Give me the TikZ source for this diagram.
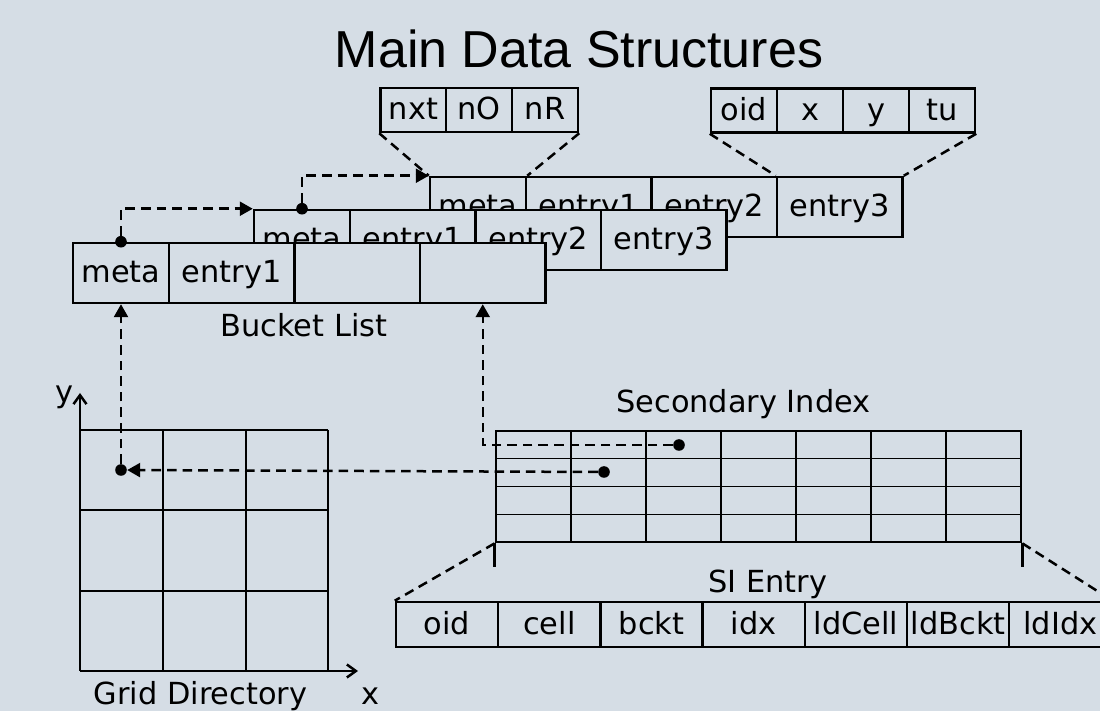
\documentclass[tikz,border=0pt]{standalone}
\usepackage{fontspec}
\newfontfamily\djv{DejaVu Sans}
\newfontfamily\arl{Liberation Sans}
\usetikzlibrary{arrows.meta}
\definecolor{bg}{RGB}{213,221,229}
\begin{document}
\begin{tikzpicture}[x=0.5pt,y=-0.5pt,
  lbl/.style={font=\djv\fontsize{15.2}{18}\selectfont, inner sep=0pt, anchor=base},
  cellbox/.style={draw, fill=bg, line width=1.25pt, inner sep=0pt, minimum height=30pt,
    text height=12pt, text depth=2pt, font=\djv\fontsize{15.2}{18}\selectfont},
  metabox/.style={cellbox, minimum width=48pt},
  entbox/.style={cellbox, minimum width=62.75pt},
  fldbox/.style={cellbox, minimum width=33pt, minimum height=22pt},
  sibox/.style={cellbox, minimum width=51.1pt, minimum height=22.5pt},
  ptdot/.style={circle, fill=black, inner sep=0pt, minimum size=5.8pt},
  dsh/.style={line width=1.25pt, dash pattern=on 4.8pt off 3pt},
  ptr/.style={dsh, -{Triangle[length=6.5pt,width=7pt]}},
  axis/.style={line width=1.25pt, -{Straight Barb[length=4.5pt,width=6.5pt]}},
]
\fill[bg] (0,0) rectangle (1100,711);
\useasboundingbox (0,0) rectangle (1100,711);

% title
\node[font=\arl\fontsize{26}{30}\selectfont, anchor=base, inner sep=0pt] (title) at (579,68) {Main Data Structures};

% back row
\node[metabox] (b0) at (478,207) {meta};
\node[entbox] (b1) at (588.75,207) {entry1};
\node[entbox] (b2) at (714.25,207) {entry2};
\node[entbox] (b3) at (839.75,207) {entry3};
% middle row
\node[metabox] (m0) at (302,240) {meta};
\node[entbox] (m1) at (412.75,240) {entry1};
\node[entbox] (m2) at (538.25,240) {entry2};
\node[entbox] (m3) at (663.75,240) {entry3};
% front row
\node[metabox] (f0) at (121,273) {meta};
\node[entbox] (f1) at (231.75,273) {entry1};
\node[entbox] (f2) at (357.25,273) {};
\node[entbox] (f3) at (482.75,273) {};

\node[lbl] (bl) at (304,337) {Bucket List};

% meta fields callout
\node[fldbox] (c0) at (413.5,110) {nxt};
\node[fldbox] (c1) at (479,110) {nO};
\node[fldbox] (c2) at (545,110) {nR};
\draw[dsh] (c0.south west) -- (b0.north west);
\draw[dsh] (c2.south east) -- (b0.north east);

% entry fields callout
\node[fldbox] (o0) at (744,110.5) {oid};
\node[fldbox] (o1) at (810,110.5) {x};
\node[fldbox] (o2) at (876,110.5) {y};
\node[fldbox] (o3) at (942,110.5) {tu};
\draw[dsh] (o0.south west) -- (b3.north west);
\draw[dsh] (o3.south east) -- (b3.north east);

% next pointers
\node[ptdot] (fd) at (f0.north) {};
\node[ptdot] (md) at (m0.north) {};
\draw[ptr] (fd) |- (m0.north west);
\draw[ptr] (md) |- (b0.north west);

% grid directory
\foreach \gx in {80,163,246,328} \draw[line width=1.4pt] (\gx,430) -- (\gx,671);
\foreach \gy in {430,510,591,671} \draw[line width=1.4pt] (80,\gy) -- (328,\gy);
\coordinate (origin) at (80,671);
\coordinate (yend) at (80,393);
\coordinate (xend) at (358,671);
\draw[axis] (origin) -- (yend);
\draw[axis] (origin) -- (xend);
\node[lbl] (ylab) at (64,403) {y};
\node[lbl] (xlab) at (370,705) {x};
\node[lbl] (gdl) at (200.5,705) {Grid Directory};

% secondary index
\node[lbl] (sil) at (743.5,413) {Secondary Index};
\foreach \k in {1,...,6} \draw[line width=0.7pt] (496+75*\k,431) -- (496+75*\k,542);
\foreach \gy in {458.75,486.5,514.25} \draw[line width=0.7pt] (496,\gy) -- (1021,\gy);
\node[draw, line width=1.4pt, minimum width=262.5pt, minimum height=55.5pt, inner sep=0pt] (si) at (758.5,486.5) {};
\draw[line width=1.25pt] (si.south west) -- ++(0,24);
\draw[line width=1.25pt] (si.south east) -- ++(0,24);

% SI entry
\node[lbl] (sel) at (768,593) {SI Entry};
\node[sibox] (e0) at (447.1,624.5) {oid};
\node[sibox] (e1) at (549.3,624.5) {cell};
\node[sibox] (e2) at (651.5,624.5) {bckt};
\node[sibox] (e3) at (753.7,624.5) {idx};
\node[sibox] (e4) at (855.9,624.5) {ldCell};
\node[sibox] (e5) at (958.1,624.5) {ldBckt};
\node[sibox] (e6) at (1060.3,624.5) {ldIdx};
\draw[dsh] (si.south west) -- (e0.north west);
\draw[dsh] (si.south east) -- (e6.north east);

% pointers between structures
\node[ptdot] (gd) at (121,470) {};
\node[ptdot] (sd1) at (679,445) {};
\node[ptdot] (sd2) at (604,472) {};
\draw[ptr] (gd) -- (f0.south);
\draw[ptr] (sd2) -- (gd);
\draw[ptr] (sd1) -| (f3.south);
\end{tikzpicture}
\end{document}
